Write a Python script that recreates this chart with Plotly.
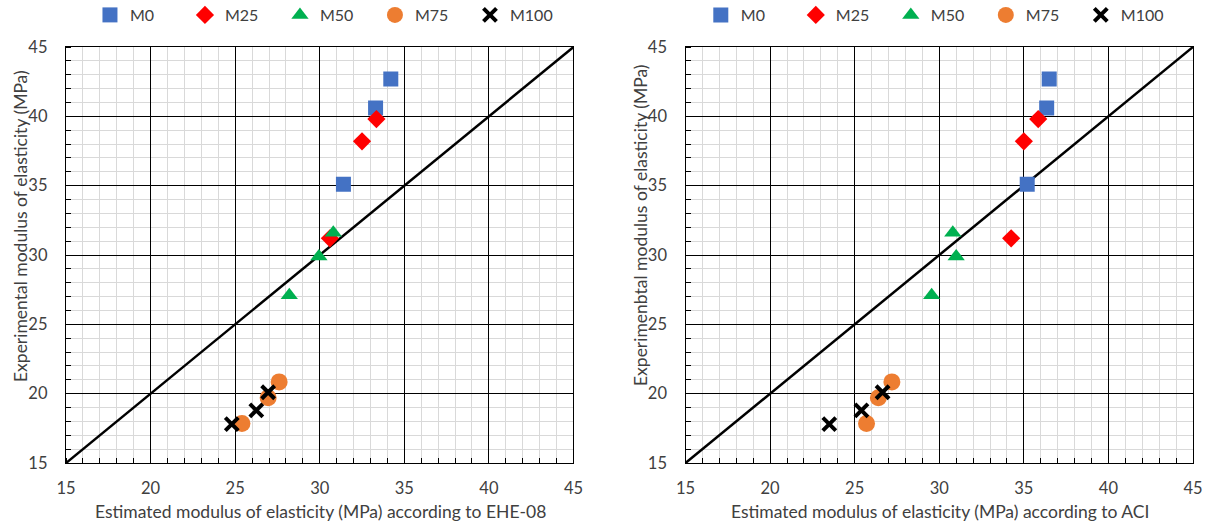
import plotly.graph_objects as go
from plotly.subplots import make_subplots

series_names = ["M0", "M25", "M50", "M75", "M100"]

# Left: estimated (EHE-08) vs experimental
ehe_M0_x = [34.2, 33.3, 31.4]
ehe_M0_y = [42.7, 40.6, 35.1]
ehe_M25_x = [33.35, 32.5, 30.6]
ehe_M25_y = [39.8, 38.2, 31.2]
ehe_M50_x = [30.8, 29.95, 28.2]
ehe_M50_y = [31.6, 29.9, 27.1]
ehe_M75_x = [27.6, 26.95, 25.4]
ehe_M75_y = [20.85, 19.7, 17.85]
ehe_M100_x = [26.95, 26.25, 24.8]
ehe_M100_y = [20.1, 18.8, 17.8]

# Right: estimated (ACI) vs experimental
aci_M0_x = [36.5, 36.35, 35.2]
aci_M0_y = [42.7, 40.6, 35.1]
aci_M25_x = [35.85, 35.0, 34.25]
aci_M25_y = [39.8, 38.2, 31.2]
aci_M50_x = [30.8, 31.0, 29.55]
aci_M50_y = [31.6, 29.9, 27.1]
aci_M75_x = [27.2, 26.4, 25.7]
aci_M75_y = [20.85, 19.7, 17.85]
aci_M100_x = [26.65, 25.4, 23.5]
aci_M100_y = [20.1, 18.8, 17.8]

equality_x = [15, 45]
equality_y = [15, 45]

tick_vals = [15, 20, 25, 30, 35, 40, 45]

x_titles = ["Estimated modulus of elasticity (MPa) according to EHE-08",
            "Estimated modulus of elasticity (MPa) according to ACI"]
y_titles = ["Experimental modulus of elasticity (MPa)",
            "Experimenbtal modulus of elasticity (MPa)"]

styles = {
    "M0": dict(symbol="square", color="#4472C4", size=15, line=dict(width=0)),
    "M25": dict(symbol="diamond", color="#FF0000", size=14, line=dict(width=0)),
    "M50": dict(symbol="triangle-up", color="#00B050", size=15, line=dict(width=0)),
    "M75": dict(symbol="circle", color="#ED7D31", size=17, line=dict(width=0)),
    "M100": dict(symbol="x-thin", color="#000000", size=13, line=dict(width=4, color="#000000")),
}

left_data = {
    "M0": (ehe_M0_x, ehe_M0_y), "M25": (ehe_M25_x, ehe_M25_y),
    "M50": (ehe_M50_x, ehe_M50_y), "M75": (ehe_M75_x, ehe_M75_y),
    "M100": (ehe_M100_x, ehe_M100_y),
}
right_data = {
    "M0": (aci_M0_x, aci_M0_y), "M25": (aci_M25_x, aci_M25_y),
    "M50": (aci_M50_x, aci_M50_y), "M75": (aci_M75_x, aci_M75_y),
    "M100": (aci_M100_x, aci_M100_y),
}

FONT = "Lato"
TXT = "#404040"
W, H = 1210, 526
ML, MR, MT, MB = 66, 17, 47, 63
PW, PH = W - ML - MR, H - MT - MB

fig = make_subplots(rows=1, cols=2, horizontal_spacing=0.0994)

for col, data, leg in [(1, left_data, "legend"), (2, right_data, "legend2")]:
    fig.add_trace(go.Scatter(x=equality_x, y=equality_y, mode="lines",
                             line=dict(color="black", width=2.5),
                             showlegend=False, hoverinfo="skip"), row=1, col=col)
    for name in series_names:
        xs, ys = data[name]
        fig.add_trace(go.Scatter(x=xs, y=ys, mode="markers", name=name,
                                 marker=styles[name], legend=leg,
                                 showlegend=True), row=1, col=col)

axis_common = dict(
    range=[15, 45], tickvals=tick_vals, showgrid=True, gridcolor="black", gridwidth=1.4,
    showline=True, linecolor="black", linewidth=1.4, mirror=True,
    ticks="", zeroline=False, automargin=False,
    tickfont=dict(family=FONT, size=16.5, color=TXT),
    minor=dict(dtick=1, showgrid=True, gridcolor="#d9d9d9", gridwidth=1,
               ticks="inside", ticklen=5, tickcolor="black", tickwidth=1),
)

fig.update_xaxes(ticklabelstandoff=10, **axis_common)
fig.update_yaxes(ticklabelstandoff=14, **axis_common)

# Axis titles as annotations (placed as in the reference)
title_font = dict(family=FONT, size=17.5, color=TXT)
x_centers_px = [320, 940]
y_title_x_px = [20, 640]
for i in range(2):
    fig.add_annotation(text=x_titles[i], xref="paper", yref="paper",
                       x=(x_centers_px[i] - ML) / PW, y=-(511 - (H - MB)) / PH,
                       xanchor="center", yanchor="middle", showarrow=False, font=title_font)
    fig.add_annotation(text=y_titles[i], xref="paper", yref="paper", textangle=-90,
                       x=(y_title_x_px[i] - ML) / PW, y=(H - MB - 226) / PH,
                       xanchor="center", yanchor="middle", showarrow=False, font=title_font)

legend_common = dict(orientation="h", xanchor="center", yanchor="middle",
                     font=dict(family=FONT, size=16, color=TXT),
                     bgcolor="rgba(0,0,0,0)", entrywidth=50, entrywidthmode="pixels",
                     itemwidth=30, tracegroupgap=0)

fig.update_layout(
    width=W, height=H,
    margin=dict(l=ML, r=MR, t=MT, b=MB, autoexpand=False),
    paper_bgcolor="white", plot_bgcolor="white",
    showlegend=True,
    legend=dict(x=0.232, y=1 + (MT - 15) / PH, **legend_common),
    legend2=dict(x=0.774, y=1 + (MT - 15) / PH, **legend_common),
)

fig.write_html("out.html", config={"displayModeBar": False},
               post_script="document.body.style.margin='0';document.body.style.overflow='hidden';")
